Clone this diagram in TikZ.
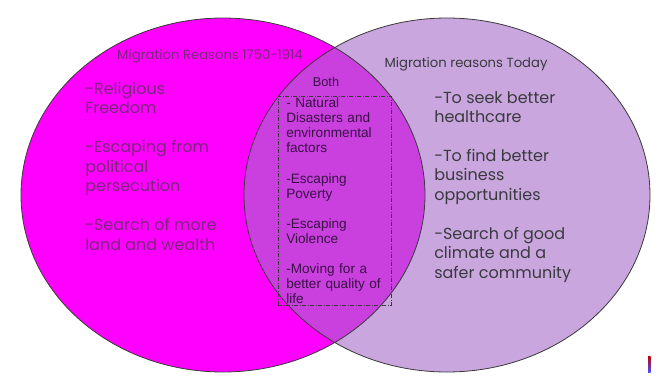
\documentclass[tikz,border=0pt]{standalone}
\usepackage{fontspec}
\setmainfont{Poppins}
\newfontfamily\arialfont{Liberation Sans}
\usetikzlibrary{positioning}
\definecolor{magentafill}{HTML}{FF00FF}
\definecolor{lilac}{HTML}{A56BC8}
\definecolor{rimgray}{HTML}{3A3A3A}
\definecolor{plumtext}{HTML}{7A287C}
\definecolor{slatetext}{HTML}{3A3A3E}
\definecolor{bothtext}{HTML}{3A1045}

\begin{document}
\begin{tikzpicture}[x=0.75pt,y=-0.75pt,
        rim/.style={draw=rimgray,line width=0.6pt},
        title/.style={inner sep=0pt,font=\fontsize{9.9}{11}\selectfont},
        list/.style={anchor=north west,inner sep=0pt,align=left,
                     font=\fontsize{12}{14.6}\selectfont},
        both/.style={anchor=north west,draw=rimgray,line width=0.4pt,
                     dash pattern=on 3pt off 1.2pt on 0.6pt off 1.2pt,
                     inner xsep=6pt,inner ysep=0pt,align=left,text=bothtext,
                     text width=72.8pt,minimum height=156.75pt,
                     font=\arialfont\fontsize{10.2}{11.3}\selectfont}]
  \useasboundingbox (0,0) rectangle (665,383);
  \fill[white] (0,0) rectangle (665,383);
  % the two circles
  \fill[magentafill] (223,195) ellipse [x radius=202,y radius=177];
  \fill[lilac,fill opacity=0.6] (447,195) ellipse [x radius=203,y radius=177];
  \draw[rim] (223,195) ellipse [x radius=202,y radius=177];
  \draw[rim] (447,195) ellipse [x radius=203,y radius=177];
  % headings
  \node[title,text=plumtext] (past) at (210,56) {Migration Reasons 1750-1914};
  \node[title,text=slatetext] (today) at (466,64) {Migration reasons Today};
  \node[title,text=bothtext,font=\arialfont\fontsize{9.6}{11}\selectfont] (bothhd) at (326,82) {Both};
  % lists
  \node[list,text=plumtext] (pastlist) at (85,82)
    {-Religious\\Freedom\\[14.6pt]
     -Escaping from\\political\\persecution\\[14.6pt]
     -Search of more\\land and wealth};
  \node[list,text=slatetext] (todaylist) at (434,91)
    {-To seek better\\healthcare\\[14.6pt]
     -To find better\\business\\opportunities\\[14.6pt]
     -Search of good\\climate and a\\safer community};
  \node[both] (bothlist) at (278,96)
    {- Natural\\Disasters and\\environmental\\factors\\[11.3pt]
     -Escaping\\Poverty\\[11.3pt]
     -Escaping\\Violence\\[11.3pt]
     -Moving for a\\better quality of\\life};
  % stray mark
  \shade[top color=red!75!black,bottom color=blue!70] (648,356) rectangle (650.5,372);
\end{tikzpicture}
\end{document}
